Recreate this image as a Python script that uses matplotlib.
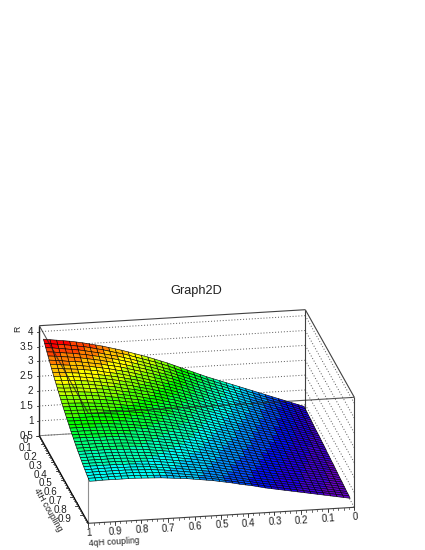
import numpy as np
import matplotlib
matplotlib.use("Agg")
import matplotlib.pyplot as plt
from matplotlib.collections import PolyCollection
from matplotlib.colors import LinearSegmentedColormap, BoundaryNorm

plt.rcParams['font.family'] = ['Liberation Sans', 'DejaVu Sans']

x_ticks = [0, 0.1, 0.2, 0.3, 0.4, 0.5, 0.6, 0.7, 0.8, 0.9, 1]
x_tick_labels = ['0', '0.1', '0.2', '0.3', '0.4', '0.5', '0.6', '0.7', '0.8', '0.9', '1']
y_ticks = [0, 0.1, 0.2, 0.3, 0.4, 0.5, 0.6, 0.7, 0.8, 0.9]
y_tick_labels = ['0', '0.1', '0.2', '0.3', '0.4', '0.5', '0.6', '0.7', '0.8', '0.9']
z_ticks = [0.5, 1, 1.5, 2, 2.5, 3, 3.5, 4]
z_tick_labels = ['0.5', '1', '1.5', '2', '2.5', '3', '3.5', '4']
z_low, z_high = 0.5, 4.2

# grid of the surface, 40 cells each way
x_nodes = np.linspace(0.01, 0.99, 41)
y_nodes = np.linspace(0.03, 0.97, 41)

# R per row of 4tH coupling (back to front), columns are 4qH coupling 0 -> 1
r_table = [
[1.04,1.12,1.20,1.28,1.36,1.44,1.52,1.60,1.68,1.76,1.84,1.92,2.00,2.08,2.16,2.24,2.33,2.42,2.51,2.60,2.69,2.78,2.86,2.94,3.02,3.09,3.16,3.23,3.30,3.36,3.42,3.48,3.53,3.58,3.63,3.67,3.71,3.74,3.77,3.80,3.83],
[1.03,1.11,1.19,1.27,1.35,1.43,1.50,1.58,1.66,1.74,1.82,1.89,1.97,2.05,2.13,2.21,2.30,2.39,2.47,2.56,2.65,2.74,2.82,2.90,2.97,3.04,3.11,3.18,3.25,3.30,3.36,3.42,3.47,3.52,3.57,3.60,3.64,3.67,3.70,3.73,3.76],
[1.02,1.10,1.18,1.26,1.33,1.41,1.49,1.56,1.64,1.72,1.79,1.87,1.95,2.03,2.10,2.18,2.27,2.35,2.44,2.52,2.61,2.70,2.77,2.85,2.92,2.99,3.06,3.13,3.19,3.25,3.30,3.35,3.41,3.45,3.50,3.54,3.57,3.60,3.63,3.66,3.68],
[1.02,1.09,1.17,1.24,1.32,1.39,1.47,1.54,1.62,1.70,1.77,1.85,1.92,2.00,2.07,2.15,2.24,2.32,2.40,2.49,2.57,2.66,2.73,2.81,2.88,2.95,3.01,3.08,3.14,3.20,3.25,3.30,3.35,3.39,3.44,3.47,3.51,3.53,3.56,3.59,3.61],
[1.01,1.08,1.16,1.23,1.30,1.38,1.45,1.53,1.60,1.67,1.75,1.82,1.90,1.97,2.05,2.12,2.20,2.28,2.37,2.45,2.54,2.62,2.69,2.76,2.83,2.90,2.96,3.02,3.08,3.14,3.19,3.24,3.29,3.33,3.37,3.41,3.44,3.47,3.49,3.52,3.54],
[1.00,1.07,1.15,1.22,1.29,1.36,1.43,1.51,1.58,1.65,1.72,1.80,1.87,1.95,2.02,2.09,2.17,2.25,2.33,2.42,2.50,2.58,2.65,2.72,2.79,2.85,2.91,2.97,3.03,3.09,3.14,3.18,3.23,3.27,3.30,3.34,3.37,3.39,3.42,3.45,3.47],
[1.00,1.07,1.14,1.21,1.28,1.35,1.42,1.49,1.56,1.63,1.70,1.77,1.85,1.92,1.99,2.06,2.14,2.22,2.30,2.38,2.46,2.54,2.61,2.68,2.74,2.80,2.86,2.92,2.98,3.03,3.08,3.13,3.17,3.21,3.25,3.28,3.31,3.33,3.35,3.38,3.40],
[0.99,1.06,1.13,1.20,1.27,1.33,1.40,1.47,1.54,1.61,1.68,1.75,1.82,1.89,1.96,2.03,2.11,2.19,2.27,2.35,2.43,2.50,2.57,2.63,2.69,2.75,2.81,2.87,2.93,2.98,3.03,3.07,3.11,3.16,3.19,3.22,3.25,3.27,3.29,3.32,3.33],
[0.98,1.05,1.12,1.19,1.25,1.32,1.39,1.45,1.52,1.59,1.66,1.73,1.80,1.87,1.94,2.01,2.08,2.16,2.23,2.31,2.39,2.46,2.53,2.59,2.65,2.71,2.77,2.83,2.88,2.93,2.98,3.02,3.06,3.10,3.13,3.16,3.19,3.21,3.23,3.25,3.27],
[0.97,1.04,1.11,1.17,1.24,1.30,1.37,1.44,1.50,1.57,1.64,1.71,1.78,1.84,1.91,1.98,2.05,2.13,2.20,2.28,2.35,2.42,2.49,2.55,2.61,2.67,2.72,2.78,2.84,2.88,2.93,2.97,3.01,3.04,3.07,3.10,3.13,3.15,3.17,3.19,3.20],
[0.96,1.03,1.10,1.16,1.23,1.29,1.36,1.42,1.48,1.55,1.61,1.68,1.75,1.82,1.88,1.95,2.02,2.10,2.17,2.24,2.31,2.38,2.45,2.51,2.57,2.63,2.68,2.73,2.79,2.83,2.87,2.92,2.95,2.99,3.02,3.05,3.07,3.09,3.11,3.12,3.14],
[0.96,1.02,1.09,1.15,1.21,1.28,1.34,1.40,1.47,1.53,1.59,1.66,1.73,1.79,1.86,1.92,1.99,2.06,2.14,2.21,2.28,2.35,2.41,2.47,2.53,2.59,2.64,2.69,2.74,2.78,2.82,2.87,2.90,2.94,2.97,3.00,3.01,3.03,3.05,3.06,3.08],
[0.95,1.01,1.08,1.14,1.20,1.26,1.33,1.39,1.45,1.51,1.57,1.64,1.70,1.77,1.83,1.90,1.96,2.03,2.10,2.17,2.24,2.31,2.38,2.43,2.49,2.55,2.60,2.64,2.70,2.74,2.77,2.82,2.85,2.89,2.91,2.94,2.96,2.98,2.99,3.00,3.02],
[0.95,1.01,1.07,1.13,1.19,1.25,1.31,1.37,1.43,1.49,1.55,1.62,1.68,1.74,1.81,1.87,1.94,2.00,2.07,2.14,2.21,2.27,2.34,2.39,2.45,2.51,2.55,2.60,2.65,2.69,2.73,2.77,2.80,2.83,2.86,2.88,2.90,2.92,2.93,2.94,2.96],
[0.94,1.00,1.06,1.12,1.18,1.24,1.30,1.35,1.41,1.47,1.53,1.59,1.65,1.72,1.78,1.84,1.91,1.98,2.04,2.11,2.18,2.24,2.30,2.36,2.41,2.46,2.51,2.56,2.61,2.64,2.68,2.72,2.75,2.78,2.81,2.83,2.85,2.86,2.88,2.89,2.90],
[0.93,0.99,1.05,1.11,1.17,1.22,1.28,1.34,1.40,1.45,1.51,1.57,1.63,1.69,1.75,1.82,1.88,1.95,2.01,2.08,2.15,2.21,2.26,2.32,2.37,2.42,2.47,2.51,2.56,2.60,2.63,2.67,2.70,2.73,2.76,2.77,2.79,2.80,2.82,2.83,2.84],
[0.92,0.98,1.04,1.10,1.15,1.21,1.27,1.32,1.38,1.43,1.49,1.55,1.61,1.67,1.73,1.79,1.85,1.92,1.98,2.05,2.11,2.17,2.23,2.28,2.33,2.38,2.43,2.47,2.52,2.55,2.58,2.62,2.65,2.68,2.70,2.72,2.74,2.75,2.76,2.77,2.78],
[0.92,0.97,1.03,1.09,1.14,1.20,1.25,1.31,1.36,1.42,1.47,1.53,1.59,1.65,1.71,1.77,1.83,1.89,1.96,2.02,2.09,2.14,2.20,2.25,2.30,2.35,2.39,2.43,2.48,2.51,2.54,2.58,2.61,2.63,2.66,2.67,2.69,2.70,2.71,2.72,2.73],
[0.91,0.96,1.02,1.08,1.13,1.19,1.24,1.29,1.35,1.40,1.45,1.51,1.57,1.63,1.69,1.74,1.80,1.87,1.93,1.99,2.06,2.11,2.17,2.22,2.27,2.31,2.35,2.40,2.44,2.47,2.50,2.54,2.56,2.59,2.61,2.63,2.64,2.65,2.66,2.67,2.68],
[0.90,0.96,1.01,1.07,1.12,1.17,1.23,1.28,1.33,1.38,1.43,1.49,1.55,1.60,1.66,1.72,1.78,1.84,1.90,1.96,2.03,2.08,2.13,2.18,2.23,2.27,2.32,2.36,2.40,2.43,2.46,2.49,2.52,2.54,2.57,2.58,2.59,2.60,2.61,2.62,2.63],
[0.88,0.94,0.99,1.05,1.10,1.15,1.21,1.26,1.31,1.36,1.42,1.47,1.53,1.58,1.64,1.70,1.76,1.82,1.88,1.94,2.00,2.05,2.10,2.15,2.20,2.24,2.28,2.32,2.36,2.39,2.42,2.45,2.48,2.50,2.52,2.53,2.55,2.55,2.56,2.57,2.58],
[0.88,0.93,0.98,1.04,1.09,1.14,1.19,1.24,1.29,1.35,1.40,1.45,1.51,1.56,1.62,1.67,1.73,1.79,1.85,1.91,1.97,2.02,2.07,2.12,2.17,2.21,2.25,2.29,2.32,2.35,2.38,2.41,2.43,2.46,2.47,2.49,2.50,2.51,2.52,2.52,2.53],
[0.87,0.92,0.97,1.03,1.08,1.13,1.18,1.23,1.28,1.33,1.38,1.43,1.49,1.54,1.59,1.65,1.70,1.76,1.82,1.88,1.94,1.99,2.04,2.09,2.13,2.17,2.21,2.25,2.28,2.31,2.34,2.37,2.39,2.41,2.43,2.44,2.45,2.46,2.47,2.47,2.48],
[0.86,0.91,0.96,1.01,1.06,1.11,1.16,1.21,1.26,1.31,1.36,1.41,1.47,1.52,1.57,1.63,1.68,1.74,1.79,1.85,1.91,1.96,2.01,2.05,2.09,2.14,2.18,2.21,2.25,2.28,2.31,2.33,2.35,2.37,2.39,2.40,2.41,2.42,2.42,2.43,2.43],
[0.85,0.90,0.95,1.00,1.05,1.10,1.15,1.20,1.25,1.30,1.34,1.39,1.45,1.50,1.55,1.60,1.66,1.71,1.77,1.82,1.88,1.93,1.98,2.02,2.06,2.10,2.14,2.18,2.21,2.24,2.27,2.29,2.31,2.33,2.35,2.36,2.37,2.37,2.38,2.38,2.38],
[0.85,0.89,0.94,0.99,1.04,1.09,1.13,1.18,1.23,1.28,1.32,1.37,1.43,1.48,1.53,1.58,1.63,1.69,1.74,1.79,1.85,1.90,1.94,1.99,2.03,2.07,2.10,2.14,2.17,2.20,2.23,2.25,2.27,2.29,2.31,2.32,2.32,2.33,2.33,2.34,2.34],
[0.84,0.88,0.93,0.98,1.03,1.07,1.12,1.17,1.21,1.26,1.31,1.35,1.41,1.46,1.51,1.56,1.61,1.66,1.71,1.76,1.82,1.87,1.91,1.96,2.00,2.04,2.07,2.11,2.14,2.17,2.20,2.22,2.24,2.26,2.27,2.28,2.28,2.29,2.29,2.30,2.30],
[0.83,0.87,0.92,0.97,1.01,1.06,1.11,1.15,1.20,1.24,1.29,1.34,1.39,1.44,1.49,1.54,1.59,1.64,1.69,1.74,1.79,1.84,1.88,1.93,1.97,2.01,2.04,2.08,2.11,2.14,2.16,2.18,2.20,2.22,2.23,2.24,2.24,2.25,2.25,2.25,2.25],
[0.82,0.87,0.91,0.96,1.00,1.05,1.09,1.14,1.18,1.23,1.27,1.32,1.37,1.42,1.47,1.52,1.57,1.62,1.66,1.71,1.76,1.81,1.85,1.90,1.94,1.97,2.01,2.04,2.08,2.10,2.13,2.15,2.17,2.18,2.19,2.20,2.21,2.21,2.21,2.21,2.21],
[0.81,0.86,0.90,0.95,0.99,1.04,1.08,1.12,1.17,1.21,1.25,1.30,1.35,1.40,1.45,1.50,1.55,1.59,1.64,1.69,1.74,1.78,1.82,1.87,1.91,1.94,1.98,2.01,2.04,2.07,2.10,2.12,2.13,2.15,2.16,2.16,2.17,2.17,2.17,2.17,2.17],
[0.80,0.85,0.89,0.94,0.98,1.02,1.07,1.11,1.15,1.20,1.24,1.29,1.33,1.38,1.43,1.48,1.53,1.57,1.62,1.67,1.72,1.76,1.80,1.84,1.88,1.91,1.95,1.98,2.01,2.04,2.07,2.08,2.10,2.11,2.12,2.13,2.13,2.13,2.13,2.13,2.13],
[0.79,0.84,0.88,0.93,0.97,1.01,1.06,1.10,1.14,1.18,1.23,1.27,1.32,1.36,1.41,1.46,1.50,1.55,1.60,1.64,1.69,1.73,1.77,1.81,1.85,1.88,1.92,1.95,1.98,2.01,2.03,2.05,2.07,2.08,2.09,2.09,2.10,2.10,2.10,2.10,2.10],
[0.78,0.83,0.87,0.92,0.96,1.00,1.04,1.08,1.12,1.17,1.21,1.25,1.30,1.34,1.39,1.44,1.48,1.53,1.57,1.62,1.67,1.71,1.75,1.79,1.82,1.86,1.89,1.92,1.95,1.98,2.00,2.02,2.03,2.05,2.06,2.06,2.06,2.06,2.06,2.06,2.06],
[0.78,0.82,0.86,0.91,0.95,0.99,1.03,1.07,1.11,1.15,1.19,1.23,1.28,1.32,1.37,1.42,1.46,1.51,1.55,1.60,1.65,1.69,1.72,1.76,1.80,1.83,1.86,1.89,1.92,1.95,1.98,1.99,2.00,2.02,2.03,2.03,2.03,2.03,2.03,2.03,2.03],
[0.77,0.81,0.85,0.89,0.93,0.97,1.02,1.06,1.10,1.14,1.18,1.22,1.26,1.31,1.35,1.40,1.44,1.49,1.53,1.58,1.63,1.67,1.70,1.74,1.77,1.81,1.84,1.87,1.90,1.92,1.95,1.96,1.97,1.99,1.99,2.00,2.00,2.00,2.00,2.00,1.99],
[0.76,0.80,0.84,0.88,0.92,0.96,1.00,1.05,1.09,1.13,1.17,1.21,1.25,1.29,1.33,1.38,1.42,1.47,1.51,1.56,1.61,1.65,1.68,1.72,1.75,1.78,1.81,1.84,1.87,1.89,1.92,1.93,1.95,1.96,1.96,1.97,1.97,1.97,1.97,1.97,1.96],
[0.75,0.79,0.83,0.87,0.91,0.95,0.99,1.03,1.07,1.11,1.15,1.19,1.23,1.27,1.31,1.36,1.40,1.45,1.49,1.54,1.59,1.63,1.66,1.70,1.73,1.76,1.79,1.82,1.85,1.87,1.90,1.91,1.92,1.93,1.93,1.94,1.94,1.94,1.94,1.93,1.93],
[0.74,0.78,0.82,0.86,0.90,0.94,0.98,1.02,1.06,1.10,1.14,1.18,1.22,1.26,1.30,1.34,1.39,1.43,1.48,1.52,1.57,1.61,1.65,1.68,1.71,1.74,1.77,1.80,1.83,1.85,1.87,1.88,1.89,1.90,1.91,1.91,1.91,1.91,1.91,1.91,1.90],
[0.74,0.78,0.82,0.85,0.89,0.93,0.97,1.01,1.05,1.09,1.13,1.17,1.21,1.25,1.29,1.34,1.38,1.42,1.47,1.51,1.55,1.59,1.63,1.66,1.69,1.72,1.75,1.78,1.81,1.83,1.85,1.86,1.87,1.88,1.88,1.88,1.88,1.88,1.88,1.88,1.87],
[0.73,0.77,0.81,0.85,0.89,0.92,0.96,1.00,1.04,1.08,1.12,1.16,1.20,1.24,1.29,1.33,1.37,1.42,1.46,1.50,1.55,1.59,1.62,1.65,1.68,1.71,1.73,1.76,1.79,1.81,1.82,1.83,1.84,1.85,1.85,1.86,1.86,1.86,1.85,1.85,1.85],
[0.72,0.76,0.80,0.84,0.88,0.92,0.96,1.00,1.04,1.08,1.12,1.16,1.20,1.24,1.29,1.34,1.38,1.42,1.47,1.51,1.55,1.59,1.62,1.65,1.68,1.71,1.73,1.75,1.77,1.79,1.80,1.81,1.82,1.83,1.83,1.83,1.83,1.83,1.83,1.82,1.82],
]

# projection of the box onto the canvas, in pixels
origin = np.array([305.3, 419.7])
x_dir = np.array([-266.0, 16.0])
y_dir = np.array([49.0, 87.6])
z_dir = np.array([0.0, -29.73])


def project(x, y, z):
    return origin + x_dir * x + y_dir * y + z_dir * (z - z_low)


def seg(ax, p, q, **kw):
    ax.plot([p[0], q[0]], [p[1], q[1]], solid_capstyle='butt', **kw)


def main():
    fig = plt.figure(figsize=(4.25, 5.5), dpi=100)
    ax = fig.add_axes([0, 0, 1, 1])
    ax.set_xlim(0, 425)
    ax.set_ylim(550, 0)
    ax.axis('off')

    line_col = '#404040'

    # dotted z grid on the two back walls
    for z in z_ticks:
        a, b, c = project(1, 0, z), project(0, 0, z), project(0, 1, z)
        for p, q in ((a, b), (b, c)):
            ax.plot([p[0], q[0]], [p[1], q[1]], color='#555555', lw=0.7, ls=(0, (1, 2)), zorder=1)

    # box behind the surface
    seg(ax, project(1, 0, z_high), project(0, 0, z_high), color=line_col, lw=0.8, zorder=2)
    seg(ax, project(0, 0, z_high), project(0, 0, z_low), color=line_col, lw=0.8, zorder=2)
    seg(ax, project(0, 0, z_high), project(0, 1, z_high), color=line_col, lw=0.8, zorder=2)
    seg(ax, project(0, 1, z_high), project(0, 1, z_low), color=line_col, lw=0.8, zorder=2)
    seg(ax, project(1, 1, z_high), project(1, 1, z_low), color='#909090', lw=0.8, zorder=2)
    seg(ax, project(1, 0, z_low), project(0, 0, z_low), color='#808080', lw=0.7, zorder=2)

    # surface cells
    r = np.array(r_table)
    polys = []
    values = []
    for j in range(40):
        for i in range(40):
            corners = [(i, j), (i + 1, j), (i + 1, j + 1), (i, j + 1)]
            polys.append([project(x_nodes[a], y_nodes[b], r[b, a]) for a, b in corners])
            values.append(np.mean([r[b, a] for a, b in corners]))
    cmap = LinearSegmentedColormap.from_list('root_rainbow', [
        (0.0, (0.4, 0.0, 0.8)),
        (0.143, (0.0, 0.0, 1.0)),
        (0.357, (0.0, 1.0, 1.0)),
        (0.571, (0.0, 1.0, 0.0)),
        (0.786, (1.0, 1.0, 0.0)),
        (1.0, (1.0, 0.0, 0.0))], N=256)
    norm = BoundaryNorm(np.linspace(r.min(), r.max(), 21), cmap.N)
    surf = PolyCollection(polys, array=np.array(values), cmap=cmap, norm=norm,
                          edgecolors='black', linewidths=0.42, zorder=3)
    ax.add_collection(surf)

    # front edges of the box run over the surface
    seg(ax, project(1, 0, z_high), project(1, 1, z_high), color='#202020', lw=0.8, alpha=0.75, zorder=4)
    seg(ax, project(1, 1, z_high), project(0, 1, z_high), color='#202020', lw=0.8, alpha=0.75, zorder=4)
    seg(ax, project(1, 0, z_high), project(1, 0, z_low), color='#202020', lw=1.0, zorder=4)

    # axes
    seg(ax, project(1, 0, z_low), project(1, 1, z_low), color='black', lw=1.0, zorder=5)
    seg(ax, project(1, 1, z_low), project(0, 1, z_low), color='#404040', lw=0.8, zorder=5)

    fs = 7.1
    for v, lab in zip(x_ticks, x_tick_labels):
        p = project(v, 1, z_low)
        ax.plot([p[0], p[0]], [p[1], p[1] + 3.2], color='#303030', lw=0.6, zorder=5)
        ax.text(p[0] + 0.6, p[1] + 9.6, lab, fontsize=fs, color='#202020', ha='center', va='center',
                rotation=3.4, rotation_mode='anchor')
    for k in range(0, 51):
        p = project(k / 50, 1, z_low)
        ax.plot([p[0], p[0]], [p[1], p[1] + 1.7], color='#303030', lw=0.5, zorder=5)

    for v, lab in zip(y_ticks, y_tick_labels):
        p = project(1, v, z_low)
        ax.plot([p[0], p[0] - 3.2], [p[1], p[1]], color='#303030', lw=0.6, zorder=5)
        ax.text(p[0] - 11.5, p[1] + 4.0, lab, fontsize=fs, color='#202020', ha='right', va='center')
    for k in range(0, 51):
        p = project(1, k / 50, z_low)
        ax.plot([p[0], p[0] - 1.7], [p[1], p[1]], color='#303030', lw=0.5, zorder=5)

    for v, lab in zip(z_ticks, z_tick_labels):
        p = project(1, 0, v)
        ax.plot([p[0], p[0] - 2.5], [p[1], p[1]], color='#303030', lw=0.6, zorder=5)
        ax.text(33.3, p[1], lab, fontsize=fs, color='#202020', ha='right', va='center')

    ax.text(114.3, 541.7, '4qH coupling', fontsize=6.2, color='#202020', ha='center', va='center',
            rotation=3.4, rotation_mode='anchor')
    ax.text(48.3, 510, '4tH coupling', fontsize=6.2, color='#202020', ha='center', va='center',
            rotation=-60, rotation_mode='anchor')
    ax.text(17.3, 328.7, 'R', fontsize=6.2, color='#202020', ha='center', va='center', rotation=90)
    ax.text(196.5, 291, 'Graph2D', fontsize=9.2, color='#202020', ha='center', va='center')

    fig.savefig('out.png', dpi=100)


if __name__ == '__main__':
    main()
